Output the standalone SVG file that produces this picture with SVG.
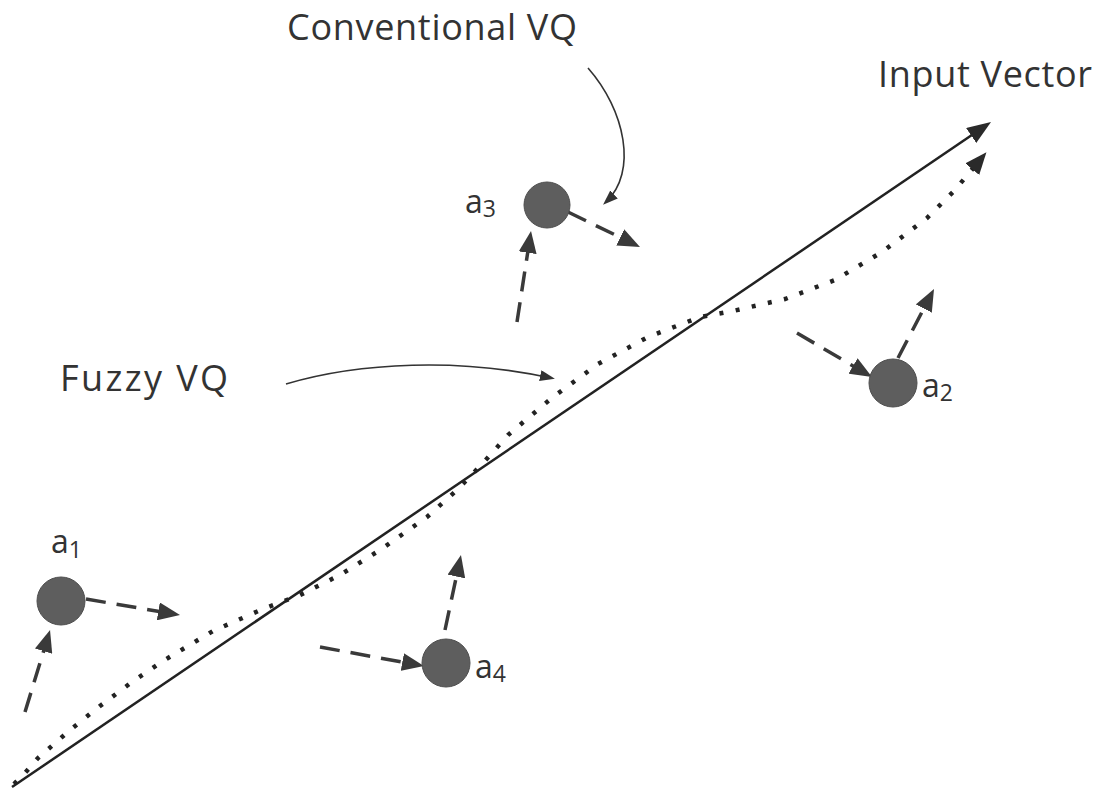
<svg xmlns="http://www.w3.org/2000/svg" width="1111" height="794" viewBox="0 0 1111 794">
<style>
.lbl{font-family:"Open Sans","Noto Sans","Liberation Sans",sans-serif;fill:#333;font-size:36px}
.sub{font-family:"Open Sans","Noto Sans","Liberation Sans",sans-serif;fill:#333;font-size:32px}
.subn{font-size:23px}
.node{fill:#5e5e5e;stroke:#4e4e4e;stroke-width:1}
.dash{fill:none;stroke:#3a3a3a;stroke-width:3.5;stroke-dasharray:20 11;marker-end:url(#ah)}
.thin{fill:none;stroke:#333;stroke-width:1.6;marker-end:url(#ahs)}
</style>
<defs>
<marker id="ah" viewBox="0 0 22 18" refX="14" refY="9" markerWidth="22" markerHeight="18" markerUnits="userSpaceOnUse" orient="auto"><path d="M0,0 L22,9 L0,18 z" fill="#3a3a3a"/></marker>
<marker id="ahb" viewBox="0 0 24 18" refX="16" refY="9" markerWidth="24" markerHeight="18" markerUnits="userSpaceOnUse" orient="auto"><path d="M0,0 L24,9 L0,18 z" fill="#2a2a2a"/></marker>
<marker id="ahd" viewBox="0 0 22 18" refX="12" refY="9" markerWidth="22" markerHeight="18" markerUnits="userSpaceOnUse" orient="auto"><path d="M0,0 L22,9 L0,18 z" fill="#2a2a2a"/></marker>
<marker id="ahs" viewBox="0 0 15 11" refX="11" refY="5.5" markerWidth="15" markerHeight="11" markerUnits="userSpaceOnUse" orient="auto"><path d="M0,0 L15,5.5 L0,11 z" fill="#333"/></marker>
</defs>
<rect width="1111" height="794" fill="#ffffff"/>

<g id="connectors">
  <path id="input-vector" d="M12,787 L984.4,126.5" fill="none" stroke="#222" stroke-width="2.5" marker-end="url(#ahb)"/>
  <path id="fuzzy-path" d="M14,784 L25,773 L38,758 L53,745 L70,730 L100,706 L132,682 L163,661 L198,640 L213,631 L263,609 L300,595 L340,575 L380,550 L427,517 L457,490 L483,463 L508,435 L553,397 L598,364 L648,337 L700,317 L733,311 L785,299 L835,280 L882,252 L927,218 L954,191 L980,160" fill="none" stroke="#222" stroke-width="4.5" stroke-dasharray="4 12.5" marker-end="url(#ahd)"/>
  <path id="conv-arrow" class="thin" d="M588,68 C625,110 638,172 606,202"/>
  <path id="fuzzy-arrow" class="thin" d="M286,384 C360,362 460,358 551,378"/>
  <path id="a1-out" class="dash" d="M86,599 L172.1,613.7"/>
  <path id="a1-in" class="dash" d="M25,712 L47.7,637.7"/>
  <path id="a3-out" class="dash" d="M568,212 L632.8,243.5"/>
  <path id="a3-in" class="dash" d="M517,322 L529.8,238.9"/>
  <path id="a2-in" class="dash" d="M797,333 L865.1,373"/>
  <path id="a2-out" class="dash" d="M898,358 L930.3,296.1"/>
  <path id="a4-in" class="dash" d="M320,647 L416.1,664.6"/>
  <path id="a4-out" class="dash" d="M445,630 L459.3,562.8"/>
</g>

<g id="node-a1"><circle class="node" cx="61" cy="601" r="24"/><text class="sub" x="51" y="553">a<tspan class="subn" dy="5">1</tspan></text></g>
<g id="node-a2"><circle class="node" cx="893" cy="383" r="24"/><text class="sub" x="922" y="397">a<tspan class="subn" dy="4">2</tspan></text></g>
<g id="node-a3"><circle class="node" cx="547" cy="205" r="23"/><text class="sub" x="465" y="213">a<tspan class="subn" dy="4">3</tspan></text></g>
<g id="node-a4"><circle class="node" cx="446" cy="663" r="24"/><text class="sub" x="475" y="678">a<tspan class="subn" dy="4">4</tspan></text></g>

<g id="label-conventional"><text class="lbl" x="287" y="40" textLength="290" lengthAdjust="spacing">Conventional VQ</text></g>
<g id="label-input"><text class="lbl" x="878" y="87" textLength="214" lengthAdjust="spacing">Input Vector</text></g>
<g id="label-fuzzy"><text class="lbl" x="60" y="391" textLength="168" lengthAdjust="spacing">Fuzzy VQ</text></g>
</svg>
